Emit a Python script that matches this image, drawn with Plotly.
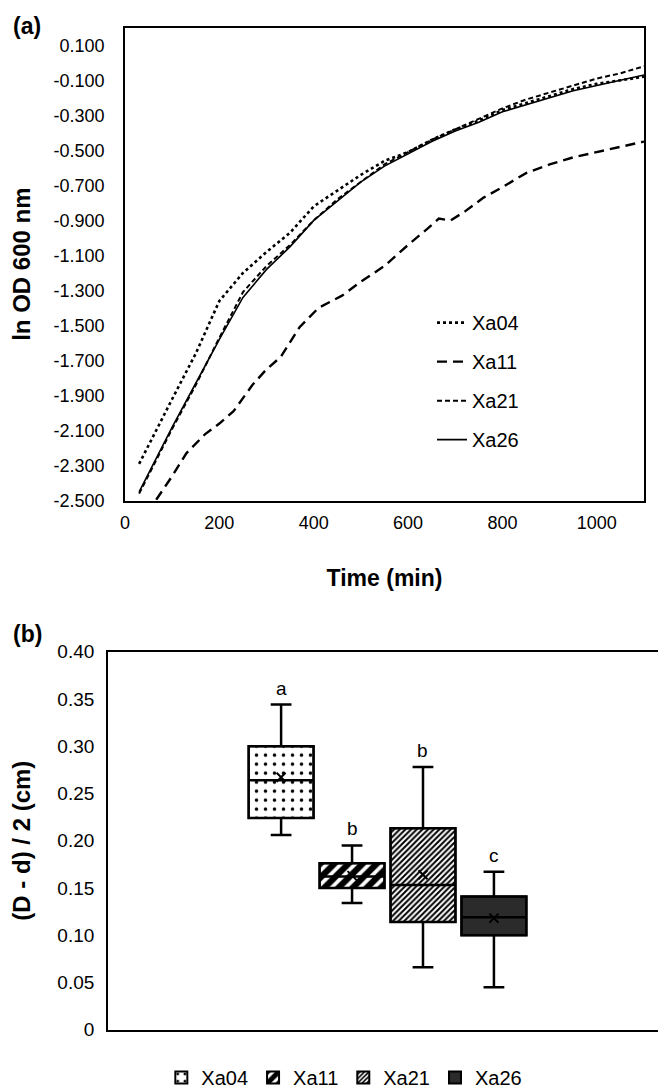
import plotly.graph_objects as go
import numpy as np

# ---------------- Panel (a): growth curves ----------------
t_xa04 = [30, 60, 100, 150, 200, 250, 300, 350, 400, 450, 500, 550, 600, 650, 700, 750, 800, 850, 900, 950, 1000, 1050, 1100]
ln_xa04 = [-2.29, -2.13, -1.92, -1.66, -1.36, -1.20, -1.08, -0.97, -0.82, -0.73, -0.64, -0.56, -0.51, -0.44, -0.38, -0.33, -0.27, -0.23, -0.19, -0.15, -0.12, -0.10, -0.08]

t_xa11 = [30, 60, 100, 130, 170, 200, 230, 270, 300, 330, 370, 410, 460, 500, 550, 600, 640, 665, 690, 720, 760, 800, 850, 900, 950, 1000, 1050, 1100]
ln_xa11 = [-2.65, -2.52, -2.36, -2.23, -2.12, -2.06, -1.99, -1.84, -1.75, -1.68, -1.51, -1.40, -1.33, -1.25, -1.16, -1.04, -0.95, -0.89, -0.90, -0.85, -0.77, -0.71, -0.63, -0.58, -0.54, -0.51, -0.48, -0.45]

t_xa21 = [30, 60, 100, 150, 200, 250, 300, 350, 400, 450, 500, 550, 600, 650, 700, 750, 800, 850, 900, 950, 1000, 1050, 1100]
ln_xa21 = [-2.46, -2.30, -2.09, -1.84, -1.57, -1.31, -1.16, -1.04, -0.90, -0.78, -0.68, -0.58, -0.51, -0.44, -0.38, -0.32, -0.26, -0.21, -0.17, -0.13, -0.09, -0.06, -0.02]

t_xa26 = [30, 60, 100, 150, 200, 250, 300, 350, 400, 450, 500, 550, 600, 650, 700, 750, 800, 850, 900, 950, 1000, 1050, 1100]
ln_xa26 = [-2.45, -2.29, -2.08, -1.83, -1.58, -1.34, -1.18, -1.05, -0.90, -0.79, -0.68, -0.59, -0.52, -0.45, -0.39, -0.34, -0.28, -0.24, -0.20, -0.16, -0.13, -0.10, -0.07]

y_ticks_a = [0.1, -0.1, -0.3, -0.5, -0.7, -0.9, -1.1, -1.3, -1.5, -1.7, -1.9, -2.1, -2.3, -2.5]
x_ticks_a = [0, 200, 400, 600, 800, 1000]

# ---------------- Panel (b): box plots ----------------
strains = ["Xa04", "Xa11", "Xa21", "Xa26"]
q1 = [0.224, 0.150, 0.114, 0.100]
median = [0.264, 0.162, 0.153, 0.119]
q3 = [0.300, 0.176, 0.213, 0.141]
lower = [0.206, 0.134, 0.066, 0.045]
upper = [0.344, 0.195, 0.278, 0.167]
mean = [0.267, 0.163, 0.164, 0.118]
letters = ["a", "b", "b", "c"]
y_ticks_b = [0, 0.05, 0.10, 0.15, 0.20, 0.25, 0.30, 0.35, 0.40]
y_ticktext_b = ["0", "0.05", "0.10", "0.15", "0.20", "0.25", "0.30", "0.35", "0.40"]

FONT = "Liberation Sans, Arial, sans-serif"
W, H = 666, 1089

fig = go.Figure()

line_styles = {
    "Xa04": dict(color="black", width=2.6, dash="dot"),
    "Xa11": dict(color="black", width=2.4, dash="10px,6px"),
    "Xa21": dict(color="black", width=2.0, dash="5px,3px"),
    "Xa26": dict(color="black", width=1.6, dash="solid"),
}
series = [("Xa04", t_xa04, ln_xa04), ("Xa11", t_xa11, ln_xa11),
          ("Xa21", t_xa21, ln_xa21), ("Xa26", t_xa26, ln_xa26)]
for name, tx, vy in series:
    fig.add_trace(go.Scatter(x=tx, y=vy, mode="lines", name=name, line=line_styles[name],
                             xaxis="x", yaxis="y", legend="legend", legendgroup=name))

patterns = {
    "Xa04": dict(color="white", pattern=dict(shape=".", fgcolor="black", bgcolor="white", size=9,
                                             solidity=0.12, fgopacity=1)),
    "Xa11": dict(color="white", pattern=dict(shape="/", fgcolor="black", bgcolor="white", size=10,
                                             solidity=0.62, fgopacity=1)),
    "Xa21": dict(color="white", pattern=dict(shape="/", fgcolor="black", bgcolor="white", size=4,
                                             solidity=0.5, fgopacity=1)),
    "Xa26": dict(color="#2b2b2b"),
}
box_w = 0.915
heights = (np.array(q3) - np.array(q1)).tolist()
for i, s in enumerate(strains):
    m = dict(patterns[s])
    m["line"] = dict(color="black", width=2)
    fig.add_trace(go.Bar(x=[s], y=[heights[i]], base=[q1[i]], width=box_w, name=s, marker=m,
                         opacity=1, xaxis="x2", yaxis="y2", legend="legend2", showlegend=True))
for i, s in enumerate(strains):
    fig.add_trace(go.Box(x=[s], q1=[q1[i]], median=[median[i]], q3=[q3[i]],
                         lowerfence=[lower[i]], upperfence=[upper[i]],
                         width=box_w, whiskerwidth=0.32, fillcolor="rgba(0,0,0,0)",
                         line=dict(color="black", width=2.5), xaxis="x2", yaxis="y2",
                         showlegend=False, hoverinfo="skip"))
fig.add_trace(go.Scatter(x=strains, y=mean, mode="markers", xaxis="x2", yaxis="y2",
                         marker=dict(symbol="x-thin", size=9, line=dict(color="black", width=2)),
                         showlegend=False))

for i, s in enumerate(strains):
    fig.add_annotation(x=s, y=upper[i], xref="x2", yref="y2", text=letters[i], showarrow=False,
                       yanchor="bottom", yshift=4, font=dict(family=FONT, size=19, color="black"))

def px_x(p):
    return p / W

def px_y(p):
    return 1 - p / H

axis_common = dict(showline=True, linecolor="black", linewidth=1.8, mirror=True, showgrid=False,
                   zeroline=False, ticks="", automargin=False)

fig.update_layout(
    width=W, height=H, margin=dict(l=0, r=0, t=0, b=0),
    paper_bgcolor="white", plot_bgcolor="white",
    font=dict(family=FONT, color="black"),
    barmode="overlay", boxmode="overlay",
    xaxis=dict(domain=[px_x(117), px_x(636)], range=[0, 1100], tickvals=x_ticks_a,
               tickfont=dict(size=18), ticklabelstandoff=5,
               title=dict(text="Time (min)", font=dict(size=23, weight="bold"), standoff=38),
               anchor="y", **axis_common),
    yaxis=dict(domain=[px_y(499), px_y(20)], range=[-2.5, 0.2], tickvals=y_ticks_a,
               ticktext=[f"{v:.3f}" for v in y_ticks_a], tickfont=dict(size=18), ticklabelstandoff=15,
               title=dict(text="ln OD 600 nm", font=dict(size=24, weight="bold"), standoff=22),
               anchor="x", **axis_common),
    xaxis2=dict(domain=[px_x(100), px_x(664)], type="category", categoryorder="array",
                categoryarray=strains, range=[-2.44, 5.51], showticklabels=False,
                anchor="y2", **axis_common),
    yaxis2=dict(domain=[px_y(1035), px_y(652)], range=[0, 0.40], tickvals=y_ticks_b,
                ticktext=y_ticktext_b, tickfont=dict(size=19), ticklabelstandoff=8,
                title=dict(text="(D - d) / 2 (cm)", font=dict(size=24, weight="bold"), standoff=38),
                anchor="x2", **axis_common),
    legend=dict(x=px_x(424), y=px_y(299), xanchor="left", yanchor="top", orientation="v",
                font=dict(size=20), bgcolor="rgba(0,0,0,0)", tracegroupgap=10,
                traceorder="grouped", itemwidth=30),
    legend2=dict(x=0.505, y=px_y(1064), xanchor="center", yanchor="top", orientation="h",
                 font=dict(size=20), bgcolor="rgba(0,0,0,0)", itemwidth=30),
    showlegend=True,
)

fig.add_annotation(x=px_x(3), y=px_y(18), xref="paper", yref="paper", text="(a)", showarrow=False,
                   xanchor="left", yanchor="middle", font=dict(family=FONT, size=23, weight="bold"))
fig.add_annotation(x=px_x(3), y=px_y(634), xref="paper", yref="paper", text="(b)", showarrow=False,
                   xanchor="left", yanchor="middle", font=dict(family=FONT, size=23, weight="bold"))

fig.write_html("out.html")
